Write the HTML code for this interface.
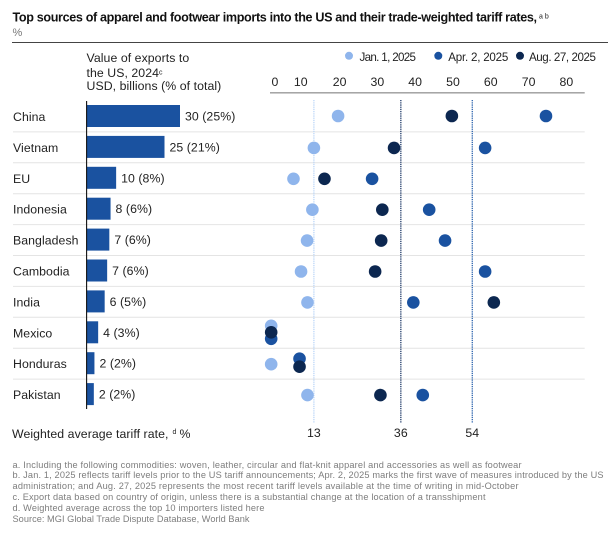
<!DOCTYPE html>
<html>
<head>
<meta charset="utf-8">
<style>
html,body{margin:0;padding:0;background:#fff;width:615px;height:533px;overflow:hidden}
svg{display:block}
text{font-family:"Liberation Sans",sans-serif}
.l{font-size:12.3px;fill:#222;letter-spacing:.06px}
.lg{font-size:11.6px;fill:#222}
.f{font-size:9.2px;fill:#7d7d7d}
</style>
</head>
<body>
<svg id="chart" xmlns="http://www.w3.org/2000/svg" width="615" height="533" viewBox="0 0 615 533">
<text x="12.5" y="21.5" font-size="12.6" font-weight="700" fill="#111" textLength="524.5" lengthAdjust="spacing">Top sources of apparel and footwear imports into the US and their trade-weighted tariff rates,</text>
<text x="539" y="18.5" font-size="7" fill="#222">a b</text>
<text x="12.5" y="36" font-size="11" fill="#777">%</text>
<line x1="12" x2="608" y1="42.5" y2="42.5" stroke="#444" stroke-width="1"/>
<text class="l" x="86.5" y="62">Value of exports to</text>
<text class="l" x="86.5" y="77">the US, 2024</text>
<text x="159" y="74.5" font-size="7" fill="#222">c</text>
<text class="l" x="86.5" y="90">USD, billions (% of total)</text>
<text class="l" x="12" y="438">Weighted average tariff rate,</text>
<text x="172.5" y="434" font-size="7" fill="#222">d</text>
<text class="l" x="179.5" y="438">%</text>
<g id="layer"></g>
<text class="f" x="12.5" y="468" textLength="509">a. Including the following commodities: woven, leather, circular and flat-knit apparel and accessories as well as footwear</text>
<text class="f" x="12.5" y="478" textLength="591">b. Jan. 1, 2025 reflects tariff levels prior to the US tariff announcements; Apr. 2, 2025 marks the first wave of measures introduced by the US</text>
<text class="f" x="12.5" y="489" textLength="506">administration; and Aug. 27, 2025 represents the most recent tariff levels available at the time of writing in mid-October</text>
<text class="f" x="12.5" y="500" textLength="473">c. Export data based on country of origin, unless there is a substantial change at the location of a transshipment</text>
<text class="f" x="12.5" y="511" textLength="252">d. Weighted average across the top 10 importers listed here</text>
<text class="f" x="12.5" y="522" textLength="237">Source: MGI Global Trade Dispute Database, World Bank</text>
</svg>
<script>
var categories = ["China","Vietnam","EU","Indonesia","Bangladesh","Cambodia","India","Mexico","Honduras","Pakistan"];
var exportValues = [30,25,9.4,7.6,7.2,6.5,5.7,3.6,2.4,2.2];
var exportLabels = ["30 (25%)","25 (21%)","10 (8%)","8 (6%)","7 (6%)","7 (6%)","6 (5%)","4 (3%)","2 (2%)","2 (2%)"];
var jan2025 = [19.6,13.2,7.8,12.8,11.4,9.8,11.5,1.9,1.9,11.5];
var apr2025 = [74.6,58.5,28.6,43.7,47.9,58.5,39.5,1.9,9.4,42];
var aug2025 = [49.7,34.4,16,31.3,31,29.4,60.8,1.9,9.4,30.8];
var seriesNames = ["Jan. 1, 2025","Apr. 2, 2025","Aug. 27, 2025"];
var axisTicks = [0,10,20,30,40,50,60,70,80];
var averageValues = [13.2,36.2,55.1];
var averageLabels = ["13","36","54"];

var NS = "http://www.w3.org/2000/svg";
var layer = document.getElementById("layer");
var colors = ["#8fb5ec","#1a52a0","#0c2750"];
var allSeries = [jan2025, apr2025, aug2025];

function xDot(v){ return 264 + 3.78 * v; }
function xBar(v){ return 3.1 * v; }
function yRow(i){ return 116 + 30.9 * i; }
function make(tag, attrs, txt){
  var e = document.createElementNS(NS, tag);
  for (var k in attrs) e.setAttribute(k, attrs[k]);
  if (txt !== undefined) e.textContent = txt;
  layer.appendChild(e);
  return e;
}
function dodge(i, s){
  var a = allSeries[0][i], b = allSeries[1][i], c = allSeries[2][i];
  if (i === 0) return 0;
  if (a === b && b === c) return [-6.5, 6.5, 0][s];
  if (b === c) return s === 1 ? -4.5 : s === 2 ? 3.5 : 1;
  return 1;
}

/* row separators */
categories.forEach(function(c, i){
  if (i === 0) return;
  var y = yRow(i) - 15;
  var sep = make("line", {x1:13, x2:584.7, y1:y, y2:y, stroke:"#e4e4e4", "stroke-width":1});
  
  
});

/* average lines */
averageValues.forEach(function(v, i){
  var col = ["#bcd6f8","#1f3a68","#2a62ad"][i];
  var ln = make("line", {x1:xDot(v), x2:xDot(v), y1:100, y2:423, stroke:col, "stroke-width":1.3, "stroke-dasharray":"1.3 0.9"});
  
  
  var lb = make("text", {x:xDot(v), y:437, "text-anchor":"middle", "class":"l"}, averageLabels[i]);
  
  
});

/* axis */
var axis = make("line", {x1:270, x2:584.7, y1:92.8, y2:92.8, stroke:"#999", "stroke-width":1.4});


axisTicks.forEach(function(t){
  var px = t === 0 ? 275 : (t === 10 ? xDot(t) - 1 : xDot(t));
  var tk = make("text", {x:px, y:86, "text-anchor":"middle", "class":"l"}, String(t));
  
  
});

/* legend */
seriesNames.forEach(function(n, i){
  var dotX = [349, 438.3, 520][i];
  var textX = [359.5, 448.3, 529][i];
  var textW = [56.5, 60, 67][i];
  var d = make("circle", {cx:dotX, cy:55.8, r:4, fill:colors[i]});
  
  
  var t = make("text", {x:textX, y:61, "class":"lg", textLength:textW}, n);
  
  
});

/* bars and labels */
categories.forEach(function(c, i){
  var y = yRow(i);
  var name = make("text", {x:13, y:y + 5, "class":"l"}, c);
  
  
  var w = xBar(exportValues[i]);
  var bar = make("rect", {x:87, y:y - 11, width:w, height:22, fill:"#1a52a0"});
  
  
  var val = make("text", {x:87 + w + 5, y:y + 4.5, "class":"l"}, exportLabels[i]);
  
  
});
var baseLine = make("line", {x1:86.6, x2:86.6, y1:101, y2:409, stroke:"#111", "stroke-width":1.1});



/* dots: light, mid, dark */
allSeries.forEach(function(vals, s){
  vals.forEach(function(v, i){
    var dot = make("circle", {cx:xDot(v), cy:yRow(i) + dodge(i, s), r:6.3, fill:colors[s]});
    
    
  });
});
</script>
</body>
</html>
